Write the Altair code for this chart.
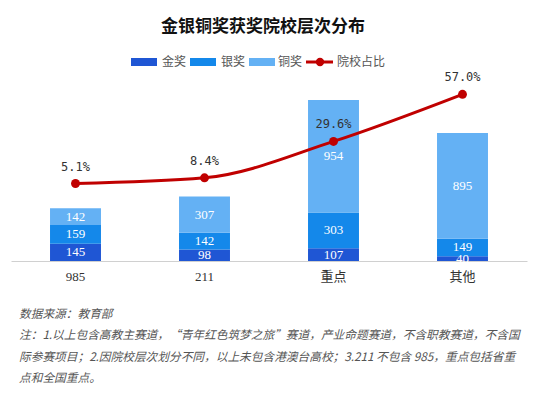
import altair as alt
import pandas as pd

categories = ["985", "211", "重点", "其他"]
gold = [145, 98, 107, 40]
silver = [159, 142, 303, 149]
bronze = [142, 307, 954, 895]
share = [5.1, 8.4, 29.6, 57.0]
award_names = ["金奖", "银奖", "铜奖"]
award_colors = ["#1F56D4", "#1488EA", "#64B1F4"]
line_name = "院校占比"
line_color = "#C00000"
title_text = "金银铜奖获奖院校层次分布"
notes = [
    "数据来源：教育部",
    "注：1.以上包含高教主赛道，“青年红色筑梦之旅”赛道，产业命题赛道，不含职教赛道，不含国",
    "际参赛项目；2.因院校层次划分不同，以上未包含港澳台高校；3.211 不包含 985，重点包括省重",
    "点和全国重点。",
]

rows = []
for i, c in enumerate(categories):
    base = 0
    for k, (name, vals) in enumerate(zip(award_names, [gold, silver, bronze])):
        v = vals[i]
        rows.append({"cat": c, "award": name, "order": k, "value": v,
                     "y0": base, "y1": base + v, "mid": base + v / 2})
        base += v
bars_df = pd.DataFrame(rows)
line_df = pd.DataFrame({"cat": categories, "share": share,
                        "label": [f"{s:.1f}%" for s in share]})

W, H = 516, 189
SERIF = "Liberation Serif, Noto Sans CJK SC"
SANS = "Noto Sans CJK SC"

xenc = alt.X("cat:N", sort=categories,
             scale=alt.Scale(paddingInner=0.605, paddingOuter=0.3025),
             axis=alt.Axis(title=None, labelAngle=0, ticks=False, domain=True,
                           domainColor="#d0d0d0", labelColor="#333333",
                           labelFont=SERIF, labelFontSize=13, labelPadding=9,
                           grid=False))
yscale = alt.Scale(domain=[0, 1600])

bars = alt.Chart(bars_df).mark_bar().encode(
    x=xenc,
    y=alt.Y("y0:Q", scale=yscale, axis=None),
    y2="y1:Q",
    color=alt.Color("award:N", scale=alt.Scale(domain=award_names, range=award_colors), legend=None),
)
bar_text = alt.Chart(bars_df).mark_text(color="white", font=SERIF, fontSize=13, baseline="middle").encode(
    x=alt.X("cat:N", sort=categories),
    y=alt.Y("mid:Q", scale=yscale, axis=None),
    text="value:Q",
)

yscale2 = alt.Scale(domain=[-40, 70])
line = alt.Chart(line_df).mark_line(color=line_color, strokeWidth=3, interpolate="monotone").encode(
    x=alt.X("cat:N", sort=categories),
    y=alt.Y("share:Q", scale=yscale2, axis=None),
)
pts = alt.Chart(line_df).mark_circle(color=line_color, size=80, opacity=1).encode(
    x=alt.X("cat:N", sort=categories),
    y=alt.Y("share:Q", scale=yscale2, axis=None),
)
ptxt = alt.Chart(line_df).mark_text(color="#333333", font="DejaVu Sans Mono", fontSize=12, dy=-17).encode(
    x=alt.X("cat:N", sort=categories),
    y=alt.Y("share:Q", scale=yscale2, axis=None),
    text="label:N",
)

# title
title = alt.Chart(pd.DataFrame({"t": [title_text]})).mark_text(
    font=SANS, fontSize=17, fontWeight="bold", color="#111111", baseline="middle"
).encode(x=alt.value(252), y=alt.value(-45), text="t:N")

# legend (manual)
leg_rect = pd.DataFrame({"name": award_names, "x": [120, 179, 238], "x2": [146, 205, 264]})
leg_r = alt.Chart(leg_rect).mark_rule(strokeWidth=8).encode(
    x=alt.X("x:Q", scale=None), x2="x2:Q", y=alt.value(-10),
    color=alt.Color("name:N", scale=alt.Scale(domain=award_names, range=award_colors), legend=None),
)
leg_lab = pd.DataFrame({"name": award_names + [line_name], "x": [151, 210, 267, 326]})
leg_t = alt.Chart(leg_lab).mark_text(font=SANS, fontSize=12, color="#555555", align="left", baseline="middle").encode(
    x=alt.X("x:Q", scale=None), y=alt.value(-10), text="name:N",
)
leg_line = alt.Chart(pd.DataFrame({"n": [line_name]})).mark_rule(color=line_color, strokeWidth=3).encode(
    x=alt.value(295), x2=alt.value(322), y=alt.value(-10),
)
leg_dot = alt.Chart(pd.DataFrame({"n": [line_name]})).mark_circle(color=line_color, size=70, opacity=1).encode(
    x=alt.value(309), y=alt.value(-10),
)

note_df = pd.DataFrame({"t": notes, "i": list(range(len(notes)))})
note_df["yy"] = [H + 53 + 21.3 * i for i in range(len(notes))]
note = alt.Chart(note_df).mark_text(font=SANS, fontSize=11.7, fontStyle="italic", color="#555555",
                                    align="left", baseline="middle").encode(
    x=alt.value(8), y=alt.Y("yy:Q", scale=None), text="t:N",
)

chart = alt.layer(bars, bar_text, line, pts, ptxt, title, leg_r, leg_t, leg_line, leg_dot, note).resolve_scale(
    y="independent", color="independent"
).properties(
    width=W, height=H,
    background="white",
    autosize=alt.AutoSizeParams(type="none"),
    padding={"left": 3, "top": 64, "right": 3, "bottom": 130},
).configure_view(strokeWidth=0, stroke=None)

chart.save("out.html", embed_options={"renderer": "svg", "actions": False})
